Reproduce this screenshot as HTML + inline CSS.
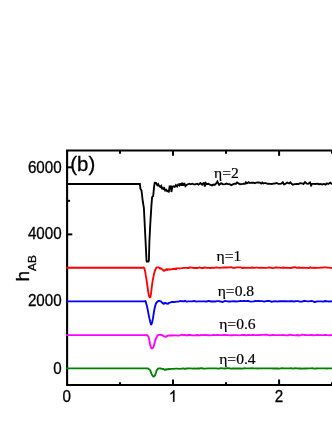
<!DOCTYPE html>
<html><head><meta charset="utf-8"><style>
html,body{margin:0;padding:0;background:#fff;}
body{width:332px;height:430px;overflow:hidden;font-family:"Liberation Sans",sans-serif;}
svg{display:block;will-change:transform;}
</style></head><body>
<svg width="332" height="430" viewBox="0 0 332 430">
<rect width="332" height="430" fill="#fff"/>
<g stroke="#000" stroke-width="2" fill="none">
<path d="M67.1,167.3 h5.2"/>
<path d="M67.1,234.4 h5.2"/>
<path d="M67.1,200.8 h3.0"/>
<path d="M173,150.55 v5.3"/>
<path d="M173,385.0 v-5.5"/>
<path d="M279.1,150.55 v5.3"/>
<path d="M279.1,385.0 v-5.5"/>
<path d="M120,150.55 v3.3"/>
<path d="M120,385.0 v-2.7"/>
<path d="M226,150.55 v3.3"/>
<path d="M226,385.0 v-2.7"/>
<path d="M332,150.55 v3.3"/>
<path d="M332,385.0 v-2.7"/>
</g>
<path d="M333,150.55 H67.1 V385.0 H333" stroke="#000" stroke-width="2.1" fill="none" stroke-linejoin="miter"/>
<polyline fill="none" stroke="#000000" stroke-width="1.85" stroke-linejoin="miter" stroke-miterlimit="2.2" points="66.1,184.0 139.3,184.0 139.9,184.0 140.4,188.7 141.5,190.5 142.8,201.5 143.9,208.1 145.0,230.2 145.9,247.9 146.5,260.3 146.8,261.5 148.5,261.5 148.9,260.3 149.4,241.3 150.3,223.6 151.4,205.9 152.1,197.1 153.2,196.0 153.9,188.3 154.7,182.7 156.0,182.9 157.3,185.2 158.2,184.2 159.2,186.1 160.3,186.9 161.2,185.9 162.0,188.3 162.9,187.8 163.6,189.7 164.4,188.5 165.2,190.5 166.2,189.8 167.0,190.9 167.9,190.8 168.8,192.4 169.6,186.3 170.8,186.2 171.4,192.0 172.3,186.9 173.3,186.3 174.8,186.9 175.9,185.1 177.1,186.4 178.3,184.5 179.4,185.5 180.1,183.5 181.2,185.6 182.1,182.8 183.1,185.6 184.3,183.2 185.4,186.1 186.9,184.7 189.2,183.7 190.6,184.3 192.2,183.7 193.8,184.4 195.2,184.3 197.0,183.7 198.6,184.6 200.3,183.1 202.1,184.7 203.9,182.5 204.8,186.5 205.7,183.0 207.0,184.2 208.4,183.8 210.0,184.7 212.0,185.4 213.4,184.6 214.7,185.0 216.2,183.4 217.4,181.4 218.4,183.6 219.2,184.9 221.1,183.2 223.0,184.4 225.0,184.2 226.5,183.6 228.0,184.1 229.6,184.1 231.3,185.1 232.9,184.3 234.3,183.7 236.0,183.7 237.1,182.5 238.9,183.7 240.1,184.2 241.1,184.1 242.7,183.9 243.7,183.6 244.8,184.0 245.9,182.3 246.9,183.4 248.8,182.2 249.9,183.1 251.6,182.7 253.6,182.7 254.7,183.3 256.3,182.6 257.5,182.5 258.6,182.4 259.8,182.6 261.1,183.6 262.3,182.5 263.4,183.4 264.6,183.2 265.9,183.1 267.6,183.8 268.7,183.6 270.5,183.9 271.8,184.0 273.4,183.7 275.0,183.5 276.4,182.9 278.3,183.8 280.0,183.8 281.3,183.6 282.8,182.3 284.0,184.4 285.3,184.0 287.2,182.6 289.2,183.5 290.4,182.4 291.7,183.8 292.8,184.7 294.8,184.1 296.7,184.0 298.4,184.0 300.1,183.2 302.0,183.3 303.5,184.1 304.9,182.1 306.8,183.6 308.2,183.8 310.0,182.5 311.1,185.4 312.1,183.9 313.8,183.9 315.5,184.0 317.3,183.6 318.8,184.2 320.7,184.0 322.0,184.5 323.9,183.9 325.7,184.7 326.9,183.4 328.3,184.0 330.2,182.6 331.5,183.8 333.2,183.4 334.4,183.6"/>
<polyline fill="none" stroke="#ff0000" stroke-width="1.85" stroke-linejoin="round" points="66.1,267.7 142.8,267.7 143.4,267.7 143.5,267.6 143.6,267.5 143.8,267.4 144.0,267.7 144.2,268.2 144.5,268.9 144.8,270.0 145.1,271.4 145.5,273.3 145.8,275.7 146.3,278.3 146.7,281.2 147.2,284.6 147.8,288.6 148.3,292.3 148.8,295.0 149.2,296.5 149.5,297.2 149.7,297.3 150.0,297.3 150.2,297.3 150.4,297.2 150.5,296.5 150.8,295.0 151.2,292.2 151.6,288.5 152.1,284.6 152.6,281.2 153.1,278.5 153.6,276.1 154.0,274.0 154.5,272.2 154.9,270.8 155.4,269.6 155.8,268.8 156.2,268.1 156.5,267.6 156.8,267.4 157.1,267.3 157.5,267.3 157.9,267.3 158.4,267.4 158.9,267.6 159.4,267.8 160.0,268.7 160.6,268.1 161.3,268.7 161.9,269.0 162.5,269.8 163.0,269.8 163.6,270.7 164.0,270.9 164.3,270.8 164.6,270.5 164.8,270.2 165.1,270.0 165.4,269.7 165.8,270.0 166.3,269.7 166.8,268.9 167.5,270.0 168.2,269.5 169.1,269.3 170.0,269.5 171.0,269.4 172.0,269.2 173.1,268.9 174.1,269.1 175.1,268.5 176.0,269.2 177.0,268.3 178.2,268.4 179.9,268.3 181.9,268.2 183.7,267.9 185.0,267.9 186.5,267.9 188.0,268.0 190.1,267.5 192.0,267.6 194.0,268.0 196.0,267.8 197.8,268.0 199.5,267.4 201.1,268.0 203.1,268.0 205.1,267.4 206.7,267.8 208.5,267.9 210.5,268.0 212.6,267.7 214.2,267.8 216.3,267.3 218.1,267.7 219.8,267.8 221.3,267.6 223.3,267.5 225.2,267.5 227.0,267.5 229.2,267.3 231.2,267.1 233.0,267.8 235.0,267.9 236.7,267.4 238.8,267.3 240.8,267.4 242.7,268.0 244.4,267.7 246.8,267.8 248.1,267.6 250.4,267.9 252.0,267.5 254.0,267.9 255.8,267.6 257.8,267.7 259.3,267.9 261.1,267.7 262.9,267.8 264.3,267.8 266.1,267.8 267.7,267.7 269.3,267.5 270.8,267.6 272.3,268.1 274.1,267.9 275.9,267.3 278.2,267.6 279.6,267.6 281.1,267.8 283.3,267.5 285.7,267.9 287.0,267.6 288.6,267.8 290.6,268.0 292.9,267.5 295.0,267.1 296.8,267.8 298.9,267.5 301.0,267.8 302.5,267.6 304.9,267.9 306.8,267.9 308.7,268.1 310.3,267.3 311.8,267.9 313.4,267.6 314.8,268.0 316.4,267.7 318.3,267.9 320.7,267.6 322.1,267.7 324.4,267.3 325.8,267.4 327.7,267.7 329.5,267.6 331.8,268.2 333.9,268.0"/>
<polyline fill="none" stroke="#0000ff" stroke-width="1.85" stroke-linejoin="round" points="66.1,301.3 144.4,301.3 145.0,301.3 145.1,301.2 145.2,300.9 145.4,300.9 145.6,301.3 145.9,302.3 146.3,303.7 146.8,305.4 147.2,307.2 147.6,309.1 148.0,311.2 148.4,313.4 148.8,315.4 149.2,317.4 149.7,319.4 150.1,321.3 150.5,322.7 150.8,323.7 150.9,324.3 151.1,324.6 151.3,324.5 151.6,324.0 151.9,323.1 152.2,321.9 152.6,320.3 153.0,318.2 153.4,315.5 153.8,312.8 154.2,310.5 154.6,308.5 155.0,306.8 155.4,305.3 155.8,304.0 156.2,303.1 156.7,302.4 157.1,302.0 157.5,301.6 157.9,301.3 158.3,301.1 158.7,300.9 159.1,300.9 159.6,300.9 160.1,301.1 160.6,301.3 161.1,301.6 161.7,302.1 162.3,303.0 162.9,303.0 163.5,303.9 163.9,303.5 164.3,303.2 164.7,303.5 165.1,302.8 165.7,302.9 166.3,303.4 167.0,303.8 167.6,303.6 168.2,303.7 168.7,303.0 169.3,302.9 170.0,302.7 170.9,302.2 171.8,302.0 172.9,301.8 174.1,302.0 175.5,301.9 177.0,301.6 178.5,301.6 180.0,301.0 181.4,301.2 182.9,301.2 184.1,301.3 185.0,300.8 186.5,301.6 188.6,301.3 190.7,301.3 192.7,301.4 194.1,300.9 196.4,301.6 197.8,301.4 200.0,301.4 201.3,301.3 202.8,301.4 204.6,301.4 206.7,301.5 208.8,300.9 210.8,301.5 213.0,301.3 214.9,301.5 217.3,301.1 218.8,301.1 220.4,301.5 222.7,302.0 225.0,300.9 226.6,301.2 228.5,301.5 230.0,301.5 231.4,301.4 233.6,301.2 235.7,301.5 238.1,301.4 240.5,300.9 242.6,301.1 244.2,301.0 245.9,301.2 248.1,300.9 249.5,301.4 251.3,301.6 253.5,301.4 255.4,301.0 257.0,301.2 258.7,301.0 260.4,301.1 262.3,301.2 264.3,301.6 266.0,301.1 267.9,300.9 270.2,301.1 271.7,301.8 273.4,301.3 275.4,301.2 277.7,301.6 279.4,301.2 281.0,301.2 282.4,301.2 284.6,301.2 286.4,301.2 288.0,301.4 290.1,301.2 292.2,301.2 294.1,301.5 295.8,301.1 298.0,301.2 299.8,301.6 302.1,301.6 304.1,300.8 306.4,301.2 307.7,301.3 309.4,301.3 311.0,300.9 313.2,301.4 314.8,302.2 317.0,301.4 318.9,301.4 321.2,301.4 323.1,301.6 325.2,301.0 327.4,301.3 329.2,301.5 331.3,301.4 333.3,300.9"/>
<polyline fill="none" stroke="#ff00ff" stroke-width="1.85" stroke-linejoin="round" points="66.1,335.1 145.5,335.1 146.1,335.1 146.2,335.1 146.3,335.0 146.4,335.0 146.7,335.1 147.1,335.3 147.6,335.6 148.1,336.1 148.6,337.0 149.0,338.6 149.4,340.7 149.7,342.8 150.1,344.6 150.5,345.9 150.9,347.0 151.2,347.8 151.6,348.3 151.9,348.5 152.2,348.4 152.5,348.2 152.8,347.9 153.1,347.6 153.3,347.3 153.5,346.9 153.8,346.1 154.1,344.9 154.5,343.3 154.9,341.6 155.3,340.1 155.8,338.8 156.5,337.5 157.1,336.3 157.6,335.5 158.0,335.0 158.3,334.8 158.6,334.8 159.1,334.8 159.7,334.8 160.5,334.9 161.3,335.0 162.1,335.2 162.9,335.6 163.6,336.1 164.4,336.4 165.1,336.8 165.7,336.8 166.2,336.4 166.7,336.4 167.4,335.6 168.2,335.7 169.0,335.5 169.9,335.4 171.1,335.5 172.6,335.5 174.3,335.4 176.2,335.4 178.0,335.7 179.9,335.3 181.9,334.7 183.7,335.1 185.0,334.9 186.5,335.5 188.6,335.0 190.2,335.0 192.3,335.3 193.7,335.3 195.1,335.4 197.1,335.0 199.4,335.3 201.3,335.0 203.3,335.2 205.3,334.9 207.2,335.2 208.7,335.2 210.2,335.3 212.1,335.2 213.7,334.8 215.5,335.2 217.8,335.0 219.4,335.1 221.4,335.1 223.6,334.9 225.9,335.0 228.3,335.2 229.6,335.3 231.3,335.2 233.3,335.2 234.7,335.1 236.9,335.1 238.5,335.3 240.6,335.2 242.6,334.9 244.7,335.0 246.3,335.3 248.5,334.9 250.8,335.2 252.7,334.9 254.8,335.1 257.1,335.1 258.6,334.9 260.0,335.1 262.0,334.8 263.9,334.9 265.6,334.7 267.6,334.9 269.8,335.4 271.3,335.1 272.8,335.0 274.2,335.2 275.8,335.1 277.9,335.2 279.3,335.1 281.2,335.2 282.7,335.0 284.2,335.1 286.1,335.4 288.0,335.3 289.7,334.7 291.6,335.0 293.3,335.1 295.5,335.3 297.4,335.0 298.9,335.5 300.6,335.2 302.4,334.7 303.7,334.9 305.0,335.0 306.7,335.1 308.2,335.1 309.7,335.1 311.7,335.0 313.8,335.3 315.2,335.1 317.4,334.9 319.6,335.1 321.8,335.2 323.4,335.1 325.1,334.9 327.5,335.2 329.5,335.3 331.1,335.0 333.0,335.2 334.4,335.3"/>
<polyline fill="none" stroke="#008000" stroke-width="1.85" stroke-linejoin="round" points="66.1,368.4 146.6,368.4 147.2,368.4 147.3,368.4 147.4,368.3 147.5,368.3 147.8,368.4 148.3,368.7 148.9,369.1 149.5,369.6 150.1,370.2 150.5,371.0 150.9,372.0 151.2,373.0 151.6,373.9 152.0,374.7 152.5,375.5 153.0,376.1 153.4,376.5 153.8,376.6 154.1,376.4 154.3,376.2 154.6,375.9 154.8,375.7 154.9,375.5 155.1,375.2 155.3,374.7 155.6,373.7 156.0,372.5 156.4,371.2 156.8,370.2 157.2,369.6 157.6,369.2 157.9,368.9 158.3,368.7 158.6,368.5 159.0,368.4 159.3,368.4 159.8,368.4 160.5,368.5 161.3,368.6 162.2,368.8 162.9,369.0 163.5,369.0 164.0,369.3 164.6,369.9 165.1,369.5 165.6,369.8 166.2,369.2 166.7,369.5 167.4,369.1 168.2,369.3 169.0,368.9 170.0,369.1 171.1,368.9 172.4,368.8 173.9,368.9 175.5,368.6 177.2,368.6 179.2,368.8 181.5,368.6 183.6,368.5 185.0,368.9 186.5,368.5 188.7,368.3 191.0,368.3 192.7,368.6 194.2,368.3 195.6,368.6 197.7,368.3 199.4,368.5 201.2,368.1 203.5,368.5 205.0,368.6 207.4,368.4 209.6,368.3 211.9,368.4 214.3,368.3 216.5,368.3 218.6,368.7 221.0,368.1 223.1,368.3 225.0,368.5 227.1,368.2 229.0,368.2 230.9,368.7 233.3,368.3 235.3,368.5 236.9,368.5 238.5,368.5 240.4,368.5 242.5,368.7 244.5,368.1 245.8,368.4 248.0,368.4 249.7,368.4 251.6,368.2 253.9,368.4 255.9,368.4 257.6,368.5 259.1,368.4 261.4,368.3 263.6,368.4 265.9,368.3 268.2,368.4 269.8,368.4 272.1,368.4 273.7,368.5 275.7,368.5 278.1,368.5 279.7,368.6 282.0,368.2 284.2,368.4 286.1,368.4 287.6,368.4 289.6,368.4 291.0,368.2 293.1,368.6 295.2,368.2 297.3,368.3 298.8,368.5 300.8,368.3 302.3,368.6 303.9,368.5 306.1,368.5 308.3,368.4 310.3,368.4 312.3,368.2 314.3,368.7 316.0,368.5 317.8,368.3 319.6,368.4 321.8,368.4 323.4,368.3 325.4,368.4 326.7,368.5 329.0,368.4 331.1,368.4 332.9,368.3 335.0,368.4"/>
<g font-family="Liberation Sans, sans-serif" font-size="16.0" fill="#000" stroke="#000" stroke-width="0.3">
<text transform="translate(61.7,172.9) scale(0.95,1)" text-anchor="end">6000</text>
<text transform="translate(61.7,239.1) scale(0.95,1)" text-anchor="end">4000</text>
<text transform="translate(61.7,306.4) scale(0.95,1)" text-anchor="end">2000</text>
<text transform="translate(61.7,373.6) scale(0.95,1)" text-anchor="end">0</text>
<text transform="translate(66.8,401.8) scale(0.95,1)" text-anchor="middle">0</text>
<text transform="translate(279.1,401.8) scale(0.95,1)" text-anchor="middle">2</text>
<path transform="translate(168.77,401.8) scale(0.007422,-0.007812)" stroke-width="38" d="M763 0H583V1147Q518 1085 412.5 1023T223 930V1104Q373 1174.5 485 1275T644 1470H763Z"/>
</g>
<text transform="translate(70.3,170.9) scale(1.03,1)" font-family="Liberation Sans, sans-serif" font-size="19.8" stroke="#000" stroke-width="0.3">(b)</text>
<text transform="translate(29.1,281.5) rotate(-90)" font-family="Liberation Sans, sans-serif" font-size="19.1" stroke="#000" stroke-width="0.3">h<tspan font-size="11.8" dy="7">AB</tspan></text>
<g font-family="Liberation Serif, serif" font-size="15.6" fill="#000" stroke="#000" stroke-width="0.2">
<text x="214.0" y="177.7">η=2</text>
<text x="216.5" y="261.3">η=1</text>
<text x="217.7" y="295.5">η=0.8</text>
<text x="219.2" y="329.4">η=0.6</text>
<text x="219.2" y="364.2">η=0.4</text>
</g>
</svg>
</body></html>
